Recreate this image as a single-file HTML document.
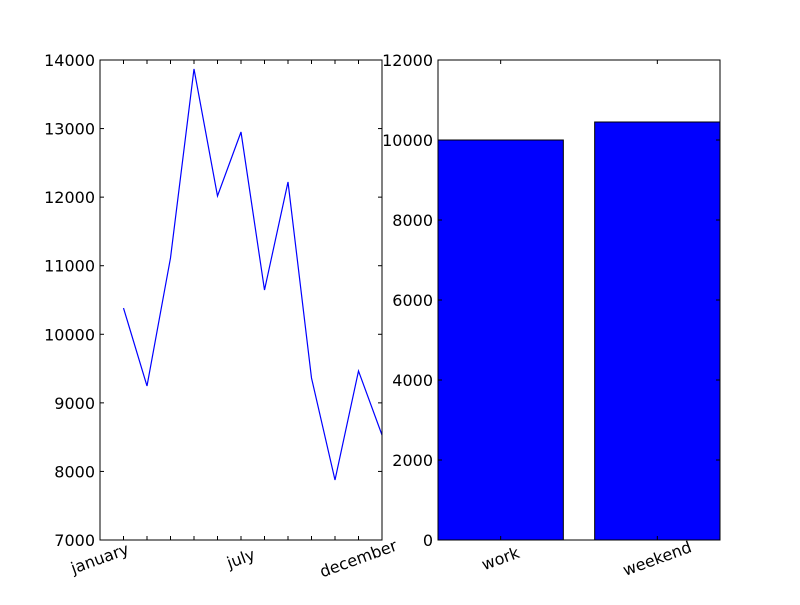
<!DOCTYPE html>
<html><head><meta charset="utf-8"><style>body{margin:0;background:#fff}svg text{font-family:"DejaVu Sans","Liberation Sans",sans-serif;font-size:16px;fill:#000}</style></head>
<body>
<svg id="c" width="800" height="600"></svg>
<script>
const months=["january","february","march","april","may","june","july","august","september","october","november","december"];
const monthValues=[10383,9246,11113,13869,12017,12950,10646,12221,9363,7875,9465,8531];
const monthLabelIdx=[0,6,11];
const leftTicks=[7000,8000,9000,10000,11000,12000,13000,14000];
const barCats=["work","weekend"];
const barValues=[10000,10450];
const rightTicks=[0,2000,4000,6000,8000,10000,12000];
const svg=document.getElementById('c');const NS='http://www.w3.org/2000/svg';
function mk(t,a,txt){const e=document.createElementNS(NS,t);for(const k in a)e.setAttribute(k,a[k]);if(txt!==undefined)e.textContent=txt;svg.appendChild(e);return e;}
// left
const L={x0:100,x1:382,y0:60,y1:540};
const lx=i=>L.x0+(i+1)/12*(L.x1-L.x0);
const ly=v=>L.y1-(v-7000)/7000*(L.y1-L.y0);
let d=monthValues.map((v,i)=>(i?'L':'M')+lx(i)+' '+ly(v)).join(' ');
const line=mk('path',{d:d,fill:'none',stroke:'#0000ff','stroke-width':1.2});


leftTicks.forEach(v=>{const y=ly(v);mk('line',{x1:L.x0,x2:L.x0+4,y1:y,y2:y,stroke:'#000'});mk('line',{x1:L.x1,x2:L.x1-4,y1:y,y2:y,stroke:'#000'});
const t=mk('text',{x:L.x0-5,y:y+6,'text-anchor':'end'},v);});
months.forEach((m,i)=>{const x=lx(i);mk('line',{x1:x,x2:x,y1:L.y1,y2:L.y1-4,stroke:'#000'});mk('line',{x1:x,x2:x,y1:L.y0,y2:L.y0+4,stroke:'#000'});});
monthLabelIdx.forEach(i=>{const x=lx(i-1);const y=L.y1+24;const t=mk('text',{x:x,y:y,'text-anchor':'middle',transform:`rotate(-20 ${x} ${y-5})`},months[i]);});
const f1=mk('rect',{x:L.x0,y:L.y0,width:L.x1-L.x0,height:L.y1-L.y0,fill:'none',stroke:'#000'});

// right
const R={x0:438,x1:720,y0:60,y1:540};
const rx=u=>R.x0+u/1.8*(R.x1-R.x0);
const ry=v=>R.y1-v/12000*(R.y1-R.y0);
barValues.forEach((v,i)=>{const b=mk('rect',{x:rx(i),y:ry(v),width:rx(i+0.8)-rx(i),height:R.y1-ry(v),fill:'#0000ff',stroke:'#000'});

const x=rx(i+0.4);mk('line',{x1:x,x2:x,y1:R.y1,y2:R.y1-4,stroke:'#000'});mk('line',{x1:x,x2:x,y1:R.y0,y2:R.y0+4,stroke:'#000'});
const y=R.y1+24;const t=mk('text',{x:x,y:y,'text-anchor':'middle',transform:`rotate(-20 ${x} ${y-5})`},barCats[i]);});
rightTicks.forEach(v=>{const y=ry(v);mk('line',{x1:R.x0,x2:R.x0+4,y1:y,y2:y,stroke:'#000'});mk('line',{x1:R.x1,x2:R.x1-4,y1:y,y2:y,stroke:'#000'});
const t=mk('text',{x:R.x0-5,y:y+6,'text-anchor':'end'},v);});
const f2=mk('rect',{x:R.x0,y:R.y0,width:R.x1-R.x0,height:R.y1-R.y0,fill:'none',stroke:'#000'});

</script>
</body></html>
